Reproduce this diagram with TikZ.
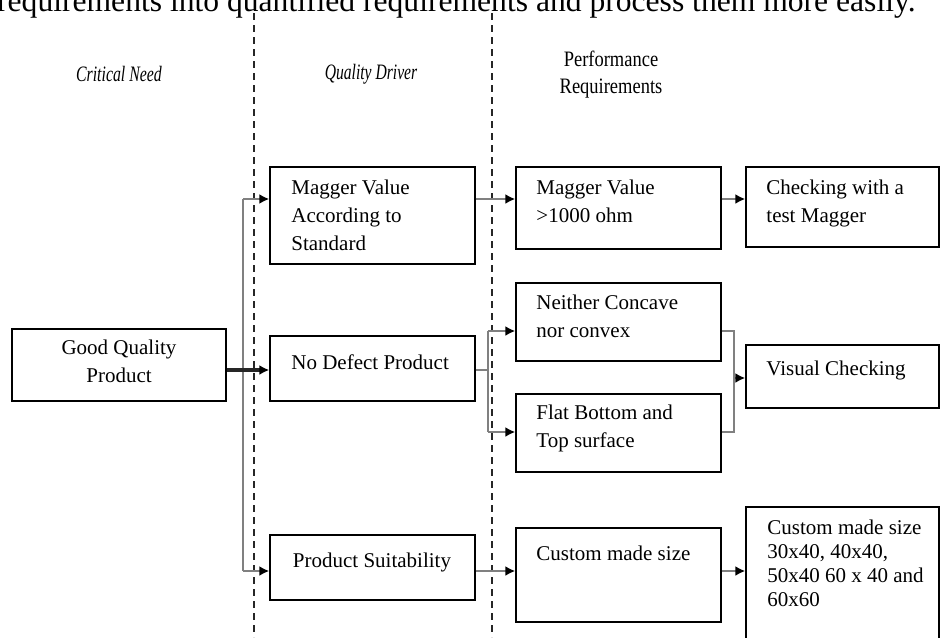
\documentclass[tikz,border=0pt]{standalone}
\usepackage{fontspec}
\usepackage{graphicx}
\setmainfont{Liberation Serif}
\usetikzlibrary{arrows.meta,fit,shadows}
\begin{document}
\begin{tikzpicture}[x=0.5pt,y=-0.5pt,
  box/.style={draw=black, line width=0.7pt, fill=white, inner sep=0pt,
    drop shadow={shadow xshift=-0.3pt, shadow yshift=-0.7pt, fill=black!45, opacity=0.6}},
  txt/.style={font=\fontsize{10.5}{14}\selectfont, align=left, inner sep=0pt, anchor=north west, execute at begin node=\strut},
  ctxt/.style={txt, align=center, anchor=north},
  hdr/.style={font=\fontsize{11}{13.5}\selectfont, inner sep=0pt, align=center},
  line/.style={draw=black!50, line width=1.3pt},
  conn/.style={line, -{Latex[length=5pt,width=5pt,black]}},
  sepline/.style={draw=black!85, line width=0.55pt, dash pattern=on 3.5pt off 2.5pt}]
\useasboundingbox (0,0) rectangle (941,637);

% title line (cut at top)
\node[font=\fontsize{15.8}{18}\selectfont, anchor=base east, inner sep=0pt] (title) at (916,11)
  {requirements into quantified requirements and process them more easily.};

% column separators
\coordinate (d1a) at (254,13); \coordinate (d1b) at (254,637);
\coordinate (d2a) at (492,13); \coordinate (d2b) at (492,637);
\draw[sepline] (d1a) -- (d1b);
\draw[sepline] (d2a) -- (d2b);

% headers
\node[hdr] (h1) at (119,74) {\scalebox{0.72}[1]{\itshape Critical Need}};
\node[hdr] (h2) at (371,74) {\scalebox{0.71}[1]{\itshape Quality Driver}};
\node[hdr] (h3) at (611,75) {\scalebox{0.84}[1]{Performance}\\\scalebox{0.84}[1]{Requirements}};

% boxes
\node[box, fit={(12,329) (226,401)}] (gq) {};
\node[ctxt] (gqt) at (119,339.4) {Good Quality\\Product};
\node[box, fit={(270,167) (475,264)}] (mv) {};
\node[txt] (mvt) at (291,179.4) {Magger Value\\According to\\Standard};
\node[box, fit={(270,336) (475,401)}] (nd) {};
\node[txt] (ndt) at (291,349.4) {No Defect Product};
\node[box, fit={(270,535) (475,600)}] (ps) {};
\node[ctxt] (pst) at (372,547.4) {Product Suitability};
\node[box, fit={(516,167) (721,249)}] (mg) {};
\node[txt] (mgt) at (536,179.4) {Magger Value\\>1000 ohm};
\node[box, fit={(516,283) (721,361)}] (nc) {};
\node[txt] (nct) at (536,294.4) {Neither Concave\\nor convex};
\node[box, fit={(516,394) (721,472)}] (fb) {};
\node[txt] (fbt) at (536,404.4) {Flat Bottom and\\Top surface};
\node[box, fit={(516,528) (721,622)}] (cm) {};
\node[txt] (cmt) at (536,540.4) {Custom made size};
\node[box, fit={(746,167) (939,247)}] (ck) {};
\node[txt] (ckt) at (766,179.4) {Checking with a\\test Magger};
\node[box, fit={(746,345) (939,408)}] (vc) {};
\node[txt] (vct) at (766,355.4) {Visual Checking};
\node[box, fit={(746,507) (939,660)}] (sz) {};
\node[txt, font=\fontsize{10.5}{12}\selectfont] (szt) at (767,519.2)
  {Custom made size\\30x40, 40x40,\\50x40 60 x 40 and\\60x60};

% connector points
\coordinate (t1) at (243,199);
\coordinate (t2) at (243,571);
\coordinate (b0) at (488,370);
\coordinate (b1) at (488,331);
\coordinate (b2) at (488,432);
\coordinate (r0) at (734,378);
\coordinate (r1) at (734,331);
\coordinate (r2) at (734,432);
\coordinate (c0) at (0,571);

% connectors
\draw[line] (t1) -- (t2);
\draw[conn] (t1) -- (t1 -| mv.west);
\draw[conn] (t2) -- (t2 -| ps.west);
\draw[conn, draw=black!85, line width=1.6pt] (b0 -| gq.east) -- (b0 -| nd.west);
\draw[conn] (t1 -| mv.east) -- (t1 -| mg.west);
\draw[conn] (t1 -| mg.east) -- (t1 -| ck.west);
\draw[line] (b0 -| nd.east) -- (b0);
\draw[line] (b1) -- (b2);
\draw[conn] (b1) -- (b1 -| nc.west);
\draw[conn] (b2) -- (b2 -| fb.west);
\draw[line] (r1 -| nc.east) -- (r1) -- (r2) -- (r2 -| fb.east);
\draw[conn] (r0) -- (r0 -| vc.west);
\draw[conn] (c0 -| ps.east) -- (c0 -| cm.west);
\draw[conn] (c0 -| cm.east) -- (c0 -| sz.west);
\end{tikzpicture}
\end{document}
